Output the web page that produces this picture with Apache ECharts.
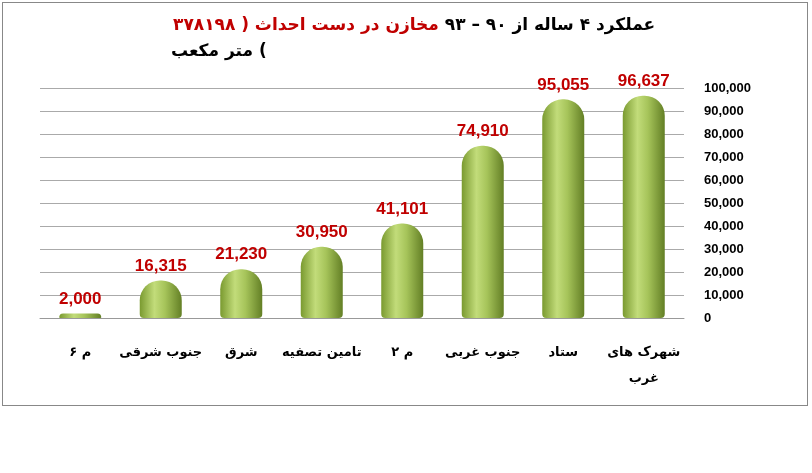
<!DOCTYPE html><html><head><meta charset="utf-8"><script src="https://cdn.jsdelivr.net/npm/echarts@6/dist/echarts.min.js"></script>
<style>html,body{margin:0;background:#fff}#c{width:812px;height:473px}#f{position:absolute;left:2px;top:2px;width:804px;height:402px;border:1px solid #888;pointer-events:none}</style></head><body><div id="c"></div><div id="f"></div>
<script>
const categories=['شهرک های\nغرب','ستاد','جنوب غربی','م ۲','تامین تصفیه','شرق','جنوب شرقی','م ۶'];
const values=[96637,95055,74910,41101,30950,21230,16315,2000];
const chart=echarts.init(document.getElementById('c'));
chart.setOption({
 title:[{text:'{r|مخازن در دست احداث ( ۳۷۸۱۹۸}{b| عملکرد ۴ ساله از ۹۰ – ۹۳}',left:168,top:12,
   textStyle:{rich:{r:{color:'#c00000',fontSize:17,fontWeight:'bold',fontFamily:'DejaVu Sans'},b:{color:'#000',fontSize:17,fontWeight:'bold',fontFamily:'DejaVu Sans'}}}},
  {text:'متر مکعب (',left:166,top:38,textStyle:{color:'#000',fontSize:17,fontWeight:'bold',fontFamily:'DejaVu Sans'}}],
 grid:{left:40,right:128,top:88,bottom:155},
 xAxis:{type:'category',data:categories,inverse:true,axisTick:{show:false},axisLine:{lineStyle:{color:'#999'}},
  axisLabel:{interval:0,color:'#000',fontWeight:'bold',fontSize:13,fontFamily:'DejaVu Sans',margin:22,lineHeight:26}},
 yAxis:{type:'value',position:'right',min:0,max:100000,interval:10000,
  axisLabel:{color:'#000',fontWeight:'bold',fontSize:13,fontFamily:'Liberation Sans',margin:20,formatter:v=>v.toLocaleString('en-US')},
  splitLine:{lineStyle:{color:'#aaa'}},axisLine:{show:false}},
 series:[{type:'bar',data:values,barWidth:42,
  itemStyle:{borderRadius:[20,20,4,4],color:new echarts.graphic.LinearGradient(0,0,1,0,[{offset:0,color:'#7a9a30'},{offset:0.35,color:'#c2dc7a'},{offset:0.6,color:'#a6c45a'},{offset:1,color:'#637f25'}])},
  label:{show:true,position:'top',color:'#c00000',fontWeight:'bold',fontSize:17,fontFamily:'Liberation Sans',distance:6,formatter:p=>p.value.toLocaleString('en-US')}}]
});
</script></body></html>
